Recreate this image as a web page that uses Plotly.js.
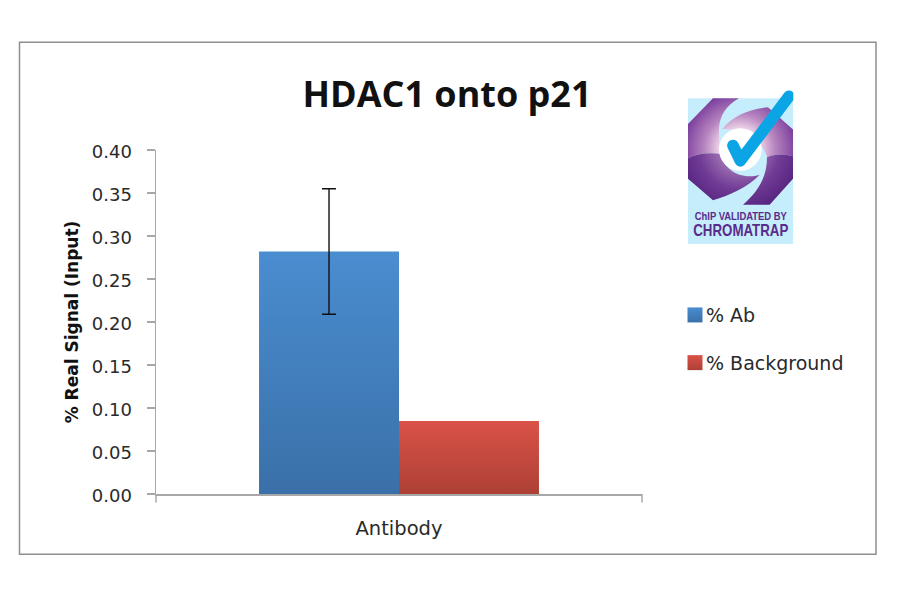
<!DOCTYPE html>
<html><head><meta charset="utf-8">
<script src="https://cdn.plot.ly/plotly-3.0.1.min.js"></script>
<style>html,body{margin:0;padding:0;background:#fff}#c{width:900px;height:594px}</style></head>
<body><div id="c"></div>
<script>
const categories = ["Antibody"];
const seriesNames = ["% Ab", "% Background"];
const abValues = [0.282];
const backgroundValues = [0.085];
const abError = [0.073];
const yTicks = [0, 0.05, 0.10, 0.15, 0.20, 0.25, 0.30, 0.35, 0.40];
const yTickLabels = ["0.00","0.05","0.10","0.15","0.20","0.25","0.30","0.35","0.40"];
const titleText = "HDAC1 onto p21";
const yTitleText = "% Real Signal (Input)";
const logoLine1 = "ChIP VALIDATED BY";
const logoLine2 = "CHROMATRAP";

const W=900,H=594,L=156,R=642,T=149.5,B=494.5;
const px=x=>(x-L)/(R-L), py=y=>(B-y)/(B-T);
const font="'DejaVu Sans', sans-serif", ink="#2a2a2a", axisGrey="#a8a8a8";

const logo=`<svg xmlns="http://www.w3.org/2000/svg" width="632" height="990" viewBox="25 0 316 495">
<defs>
<radialGradient id="g" gradientUnits="userSpaceOnUse" cx="180" cy="190" r="175"><stop offset="0.35" stop-color="#ecd3e8"/><stop offset="0.6" stop-color="#b886c0"/><stop offset="1" stop-color="#76389a"/></radialGradient>
<radialGradient id="h" gradientUnits="userSpaceOnUse" cx="180" cy="190" r="190"><stop offset="0.35" stop-color="#9a6ab0"/><stop offset="0.65" stop-color="#6f3b95"/><stop offset="1" stop-color="#56237f"/></radialGradient>
</defs>
<rect x="25" y="38" width="316" height="438" fill="#c6edfb"/>
<path d="M100 38H178C140 60 118 90 118 135L120 205C85 200 50 205 25 218V115Z" fill="url(#g)"/>
<path d="M128 130C160 90 210 70 265 65L340 132V212C310 205 285 205 262 215C250 165 190 130 128 130Z" fill="url(#g)"/>
<path d="M25 218C50 205 85 200 120 205C135 255 185 285 240 268C205 305 150 330 100 345L25 280Z" fill="url(#h)"/>
<path d="M262 215C285 205 310 205 340 212V280L270 358H190C235 320 262 275 262 215Z" fill="url(#h)"/>
<circle cx="182" cy="192" r="64" fill="#fff"/>
<path d="M160 180L182 226L328 32" fill="none" stroke="#0ba5e6" stroke-width="35" stroke-linecap="round" stroke-linejoin="round"/>
</svg>`;

const traces=[
 {type:"bar",name:seriesNames[0],x:categories,y:abValues,marker:{color:"#4282c0"},
  error_y:{type:"data",array:abError,visible:true,color:"#111",thickness:1.4,width:7},legendgroup:"a"},
 {type:"bar",name:seriesNames[1],x:categories,y:backgroundValues,marker:{color:"#c94c42"},legendgroup:"b"}
];
const layout={
 width:W,height:H,margin:{l:L,r:W-R,t:T,b:H-B},paper_bgcolor:"#fff",plot_bgcolor:"#fff",
 barmode:"group",bargap:0.424,bargroupgap:0,
 font:{family:font,color:ink,size:18},
 title:{text:titleText,font:{family:"'Open Sans', sans-serif",size:36,weight:700,color:"#111"},x:447/W,xanchor:"center",y:1-94/H,yanchor:"middle"},
 xaxis:{type:"category",showline:true,linecolor:axisGrey,linewidth:1.5,ticks:"",showgrid:false,zeroline:false,tickfont:{size:19.5,color:ink},automargin:false,ticklen:0,ticklabelstandoff:16},
 yaxis:{range:[0,0.40],tickmode:"array",tickvals:yTicks,ticktext:yTickLabels,showline:true,linecolor:axisGrey,linewidth:1.5,
   ticks:"outside",ticklen:8,tickcolor:axisGrey,tickwidth:1.5,showgrid:false,zeroline:false,tickfont:{size:18,color:ink},automargin:false,ticklabelstandoff:11,ticklabelshift:2,
   title:{text:yTitleText,font:{size:17,weight:"bold",color:"#111"},standoff:9}},
 legend:{x:px(666),xanchor:"left",y:py(296),yanchor:"top",traceorder:"grouped",tracegroupgap:20,font:{size:19,color:ink},bgcolor:"rgba(0,0,0,0)",itemclick:false},
 showlegend:true,
 shapes:[
  {type:"rect",xref:"paper",yref:"paper",x0:px(19.5),x1:px(876),y0:py(555),y1:py(41.5),line:{color:"#8f8f8f",width:1.5},fillcolor:"rgba(0,0,0,0)",layer:"below"},
  {type:"line",xref:"paper",yref:"paper",x0:px(642),x1:px(642),y0:py(494.5),y1:py(503),line:{color:axisGrey,width:1.5}},
  {type:"line",xref:"paper",yref:"paper",x0:px(156),x1:px(156),y0:py(494.5),y1:py(503),line:{color:axisGrey,width:1.5}}
 ],
 images:[{source:"data:image/svg+xml;charset=utf-8,"+encodeURIComponent(logo),xref:"paper",yref:"paper",x:px(688),y:py(85),sizex:105.33/(R-L),sizey:165/(B-T),xanchor:"left",yanchor:"top",sizing:"stretch",layer:"above"}],
 annotations:[
  {xref:"paper",yref:"paper",x:px(740.5),y:py(216),text:"<b>"+logoLine1+"</b>",showarrow:false,font:{family:"'Liberation Sans', sans-serif",size:11,color:"#5a2a8c"},xanchor:"center",yanchor:"middle"},
  {xref:"paper",yref:"paper",x:px(740.5),y:py(230),text:"<b>"+logoLine2+"</b>",showarrow:false,font:{family:"'Liberation Sans', sans-serif",size:17,color:"#5a2a8c"},xanchor:"center",yanchor:"middle"}
 ]
};
Plotly.newPlot("c",traces,layout,{displayModeBar:false,staticPlot:true}).then(gd=>{
 const svg=gd.querySelector("svg.main-svg");
 const ns="http://www.w3.org/2000/svg";
 let defs=svg.querySelector("defs")||svg.insertBefore(document.createElementNS(ns,"defs"),svg.firstChild);
 const mk=(id,a,b)=>{const g=document.createElementNS(ns,"linearGradient");g.id=id;g.setAttribute("x1","0");g.setAttribute("y1","0");g.setAttribute("x2","0");g.setAttribute("y2","1");
  [[0,a],[1,b]].forEach(([o,c])=>{const s=document.createElementNS(ns,"stop");s.setAttribute("offset",o);s.setAttribute("stop-color",c);g.appendChild(s);});defs.appendChild(g);};
 mk("gA","#4a8dd0","#3a70a8");mk("gB","#da5248","#ad4035");
 gd.querySelectorAll(".barlayer .trace").forEach((t,i)=>t.querySelectorAll(".point path").forEach(p=>p.style.fill=`url(#${i?"gB":"gA"})`));
 gd.querySelectorAll(".legend .legendpoints path").forEach((p,i)=>{p.style.fill=`url(#${i?"gB":"gA"})`;p.setAttribute("transform","translate(29,0) scale(1.25)");});
 const lens=[92,95];
 gd.querySelectorAll(".annotation-text").forEach((t,i)=>{t.setAttribute("textLength",lens[i]);t.setAttribute("lengthAdjust","spacingAndGlyphs");});
});
</script></body></html>
